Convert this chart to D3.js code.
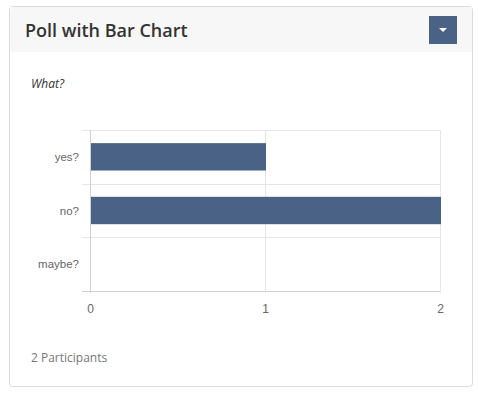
<!DOCTYPE html>
<html>
<head>
<meta charset="utf-8">
<script src="https://cdn.jsdelivr.net/npm/d3@7"></script>
<style>
  body { margin: 0; background: #fff; font-family: "Open Sans", sans-serif; }
</style>
</head>
<body>
<div id="poll"></div>
<script>
// poll data
const answers = ['yes?', 'no?', 'maybe?'];
const votes = [1, 2, 0];
const xTicks = [0, 1, 2];
const question = 'What?';
const title = 'Poll with Bar Chart';
const participants = 2;

const W = 478, H = 397;
const svg = d3.select('#poll').append('svg')
    .attr('width', W).attr('height', H);

// card
svg.append('rect')
    .attr('x', 9.5).attr('y', 6.5)
    .attr('width', 463).attr('height', 380)
    .attr('rx', 3)
    .attr('fill', '#fff')
    .attr('stroke', '#dcdcdc');

svg.append('rect')
    .attr('x', 10).attr('y', 7)
    .attr('width', 462).attr('height', 45)
    .attr('fill', '#f7f7f7');

svg.append('text')
    .attr('x', 25).attr('y', 37)
    .attr('fill', '#333')
    .style('font-size', '18px')
    .style('font-weight', 600)
    .text(title);

// dropdown button
svg.append('rect')
    .attr('x', 429).attr('y', 16)
    .attr('width', 28).attr('height', 28)
    .attr('fill', '#4a6285');
svg.append('path')
    .attr('d', 'M439,28 L447,28 L443,32 Z')
    .attr('fill', '#fff');

svg.append('text')
    .attr('x', 31).attr('y', 88)
    .attr('fill', '#333')
    .style('font-size', '12px')
    .style('font-style', 'italic')
    .text(question);

// chart
const margin = { left: 90, top: 130 };
const chartW = 350, chartH = 161;
const g = svg.append('g').attr('transform', `translate(${margin.left},${margin.top})`);

const x = d3.scaleLinear().domain([0, 2]).range([0, chartW]);
const y = d3.scaleBand().domain(answers).range([0, chartH]).paddingInner(0.49).paddingOuter(0.245);
const yBand = d3.scaleBand().domain(answers).range([0, chartH]);

// horizontal grid lines (band borders)
g.selectAll('.hgrid')
    .data(d3.range(answers.length + 1))
    .enter().append('line')
    .attr('class', 'hgrid')
    .attr('x1', -8).attr('x2', chartW)
    .attr('y1', i => Math.round(i * yBand.step()) + 0.5)
    .attr('y2', i => Math.round(i * yBand.step()) + 0.5)
    .attr('stroke', i => i === answers.length ? '#d0d0d0' : '#e6e6e6');

// vertical grid lines
g.selectAll('.vgrid')
    .data(xTicks)
    .enter().append('line')
    .attr('class', 'vgrid')
    .attr('x1', d => Math.round(x(d)) + 0.5)
    .attr('x2', d => Math.round(x(d)) + 0.5)
    .attr('y1', 0).attr('y2', chartH + 2)
    .attr('stroke', d => d === 0 ? '#d0d0d0' : '#e6e6e6');

g.selectAll('.bar')
    .data(answers)
    .enter().append('rect')
    .attr('class', 'bar')
    .attr('x', x(0) + 1)
    .attr('y', d => y(d))
    .attr('width', (d, i) => Math.max(0, x(votes[i]) - x(0)))
    .attr('height', y.bandwidth())
    .attr('fill', '#4a6285');

// y labels
g.selectAll('.ylab')
    .data(answers)
    .enter().append('text')
    .attr('class', 'ylab')
    .attr('x', -11)
    .attr('y', d => yBand(d) + yBand.bandwidth() / 2)
    .attr('dy', '0.35em')
    .attr('text-anchor', 'end')
    .attr('fill', '#666')
    .style('font-family', '"Liberation Sans", Arial, sans-serif')
    .style('font-size', '11.5px')
    .text(d => d);

// x labels
g.selectAll('.xlab')
    .data(xTicks)
    .enter().append('text')
    .attr('class', 'xlab')
    .attr('x', d => x(d) + 0.5)
    .attr('y', chartH + 22)
    .attr('text-anchor', 'middle')
    .attr('fill', '#666')
    .style('font-family', '"Liberation Sans", Arial, sans-serif')
    .style('font-size', '12px')
    .text(d => d);

svg.append('text')
    .attr('x', 31).attr('y', 362)
    .attr('fill', '#777')
    .style('font-size', '12px')
    .text(`${participants} Participants`);
</script>
</body>
</html>
